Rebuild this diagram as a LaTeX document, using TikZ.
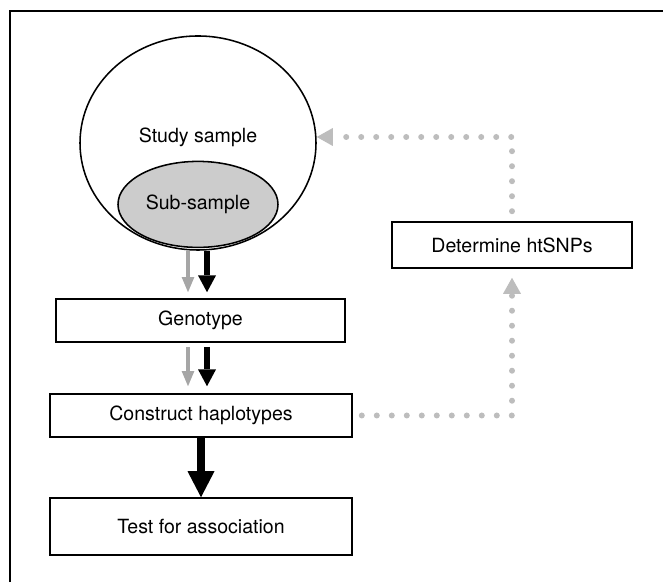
\documentclass[tikz,border=0pt]{standalone}
\usepackage{fontspec}
\setmainfont{TeX Gyre Heros}
\usetikzlibrary{shapes,arrows.meta,positioning,calc}
\definecolor{subgray}{gray}{0.8}
\definecolor{arrgray}{gray}{0.65}
\definecolor{dotgray}{gray}{0.74}

\begin{document}
\begin{tikzpicture}[
	font=\fontsize{13.9}{16}\selectfont,
	stepbox/.style={draw, line width=1.1pt, minimum height=1.075cm, inner sep=0pt},
	bigell/.style={draw, ellipse, line width=1.1pt, inner sep=0pt},
	grayarr/.style={draw=arrgray, line width=0.1cm, -{Triangle[length=0.38cm, width=0.32cm, line width=0pt]}},
	blackarr/.style={line width=0.14cm, -{Triangle[length=0.42cm, width=0.45cm, line width=0pt]}},
	fatarr/.style={line width=0.2cm, -{Triangle[length=0.65cm, width=0.675cm, line width=0pt]}},
	dotline/.style={draw=dotgray, line width=0.15cm, line cap=round, dash pattern=on 0pt off 0.375cm, -{Triangle[length=0.4cm, width=0.45cm, line width=0pt, fill=dotgray]}}
]
	\useasboundingbox (0,0) rectangle (16.575,14.55);
	\draw[line width=0.9pt] (0.25,0) -- (0.25,14.275) -- (16.575,14.275);

	\node[bigell, minimum width=5.9cm, minimum height=5.35cm] (study) at (4.95,10.975) {};
	\node (studytxt) at ([yshift=0.15cm]study.center) {Study sample};
	\node[bigell, fill=subgray, minimum width=4cm, minimum height=2.15cm] (sub) at (4.95,9.44) {Sub-sample};

	\node[stepbox, minimum width=7.225cm] (geno) at (5.0125,6.5375) {Genotype};
	\node[stepbox, minimum width=7.55cm] (cons) at (5.025,4.1625) {Construct haplotypes};
	\node[stepbox, minimum width=7.55cm, minimum height=1.425cm] (test) at (5.025,1.3875) {Test for association};
	\node[stepbox, minimum width=6cm, minimum height=1.15cm] (htsnp) at (12.8,8.425) {Determine htSNPs};

	% sub-sample path (grey) and whole sample path (black)
	\draw[grayarr] ([xshift=-0.25cm,yshift=-0.08cm]sub.south) -- ([xshift=-0.25cm,yshift=0.15cm]sub.south |- geno.north);
	\draw[blackarr] ([xshift=0.225cm,yshift=-0.08cm]sub.south) -- ([xshift=0.225cm,yshift=0.15cm]sub.south |- geno.north);
	\draw[grayarr] ([xshift=-0.25cm,yshift=-0.1cm]sub.south |- geno.south) -- ([xshift=-0.25cm,yshift=0.175cm]sub.south |- cons.north);
	\draw[blackarr] ([xshift=0.225cm,yshift=-0.1cm]sub.south |- geno.south) -- ([xshift=0.225cm,yshift=0.175cm]sub.south |- cons.north);
	\draw[fatarr] (cons.south) -- (test.north);

	\draw[dotline] ([xshift=0.225cm]cons.east) -| ([yshift=-0.225cm]htsnp.south);
	\draw[dotline] ([yshift=0.25cm]htsnp.north) |- ([yshift=0.15cm]study.east);
\end{tikzpicture}
\end{document}
